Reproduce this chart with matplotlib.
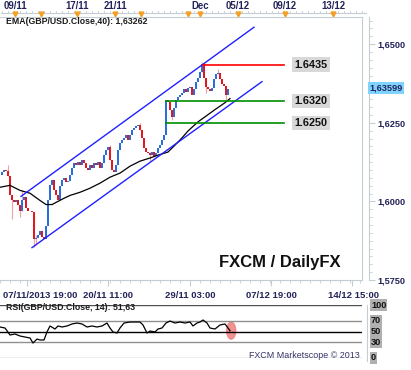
import matplotlib
matplotlib.use('Agg')
from matplotlib import pyplot as plt
from matplotlib import transforms
from matplotlib.patches import Ellipse
import numpy as np

plt.rcParams['font.family'] = ['Liberation Sans', 'DejaVu Sans']

# GBP/USD candles (one per bar index), open = previous close
first_open = 1.6085
closes = [1.6093, 1.6099, 1.6096, 1.6080, 1.6019, 1.6003, 1.5997, 1.6003, 1.5990, 1.5971,
          1.6003, 1.6013, 1.5978, 1.5968, 1.5971, 1.5965, 1.5881, 1.5885, 1.5894, 1.5907,
          1.5888, 1.5881, 1.5923, 1.6003, 1.6051, 1.6067, 1.6035, 1.6019, 1.6003, 1.6048,
          1.6067, 1.6074, 1.6061, 1.6064, 1.6083, 1.6106, 1.6122, 1.6115, 1.6125, 1.6115,
          1.6131, 1.6122, 1.6106, 1.6099, 1.6115, 1.6106, 1.6122, 1.6115, 1.6125, 1.6106,
          1.6122, 1.6147, 1.6163, 1.6173, 1.6131, 1.6099, 1.6093, 1.6115, 1.6163, 1.6186,
          1.6196, 1.6202, 1.6212, 1.6196, 1.6212, 1.6228, 1.6234, 1.6240, 1.6244, 1.6228,
          1.6202, 1.6170, 1.6157, 1.6153, 1.6147, 1.6157, 1.6144, 1.6154, 1.6170, 1.6179,
          1.6196, 1.6212, 1.6324, 1.6317, 1.6292, 1.6269, 1.6298, 1.6324, 1.6333, 1.6340,
          1.6346, 1.6356, 1.6349, 1.6362, 1.6365, 1.6340, 1.6356, 1.6381, 1.6394, 1.6413,
          1.6436, 1.6394, 1.6365, 1.6356, 1.6352, 1.6362, 1.6388, 1.6404, 1.6407, 1.6388,
          1.6372, 1.6368, 1.6340, 1.6359]

# visible wicks
wick_idx = [3, 5, 9, 10, 16, 17, 54, 69, 74, 85, 100, 102, 108, 112]
wick_hi = [1.6115, 1.6019, 1.5990, 1.6035, 1.5965, 1.5894, 1.6180, 1.6250, 1.6157, 1.6292, 1.6442, 1.6394, 1.6420, 1.6368]
wick_lo = [1.6080, 1.5944, 1.5950, 1.5971, 1.5856, 1.5860, 1.6131, 1.6228, 1.6130, 1.6260, 1.6413, 1.6345, 1.6404, 1.6322]

# EMA(40)
ema_idx = [-1, 4, 9, 14, 19, 22, 25, 28, 31, 34, 39, 44, 49, 54, 59, 64, 69, 74, 78, 83,
           86.5, 90, 93, 98, 101.5, 106.5, 111.5, 114]
ema_val = [1.6045, 1.6051, 1.6035, 1.6026, 1.6003, 1.5990, 1.5990, 1.6000, 1.6010, 1.6019,
           1.6029, 1.6042, 1.6058, 1.6077, 1.6090, 1.6112, 1.6128, 1.6138, 1.6147, 1.6157,
           1.6179, 1.6202, 1.6224, 1.6253, 1.6269, 1.6292, 1.6314, 1.6327]

# RSI(14)
rsi_idx = [-1, 1.5, 4, 6.5, 9, 11.5, 14, 15.5, 17.5, 19, 21, 22.5, 24, 26.5, 28, 30, 32.5, 35,
           37.5, 40, 42.5, 45, 47.5, 50, 52.5, 54, 55.5, 57.5, 59, 61, 64, 66.5, 69, 70.5,
           72.5, 74, 76.5, 78, 80, 82, 84, 86.5, 89, 91.5, 94, 95.5, 97.5, 99, 100.5, 102.5,
           104, 106.5, 109, 111.5, 113, 114]
rsi_val = [58.5, 56.6, 43.4, 45.3, 41.5, 39.6, 37.7, 28.3, 35.8, 34.0, 34.0, 49.1, 60.4, 54.7,
           60.4, 58.5, 60.4, 64.2, 66.0, 64.2, 58.5, 60.4, 58.5, 60.4, 66.0, 56.6, 49.1, 47.2,
           56.6, 66.0, 67.9, 67.9, 67.9, 62.3, 47.2, 50.9, 49.1, 54.7, 56.6, 66.0, 69.8, 66.0,
           67.9, 66.0, 67.9, 60.4, 66.0, 67.9, 71.7, 66.0, 56.6, 54.7, 62.3, 64.2, 56.6, 51.6]
rsi_levels = [0, 30, 50, 70, 100]
rsi_labels = ['0', '30', '50', '70', '100']

# drawn levels and channel
levels = [1.6435, 1.6320, 1.6250]
level_labels = ['1.6435', '1.6320', '1.6250']
level_colors = ['#ff0000', '#009000', '#009000']
level_start = [100.5, 82, 82]
level_end = 141
upper_x = [9.5, 126]
upper_y = [1.6016, 1.6554]
lower_x = [15, 130]
lower_y = [1.5853, 1.6381]

price_ticks = [1.575, 1.600, 1.625, 1.650]
price_labels = ['1,5750', '1,6000', '1,6250', '1,6500']
last_price = 1.63599

top_idx = [6.5, 37.5, 56.5, 99, 118, 141.5, 165.5]
top_labels = ['09/11', '17/11', '21/11', 'Dec', '05/12', '09/12', '13/12']
top_markers = [6.5, 19.5, 37.5, 56.5, 69.5, 93, 99, 118, 141.5, 165.5]
bottom_ticks = [12.5, 53, 94, 134.5, 175]
bottom_label_idx = [19, 53, 94, 134.5, 175.5]
bottom_labels = ['07/11/2013 19:00', '20/11 11:00', '29/11 03:00', '07/12 19:00', '14/12 15:00']

W, H = 411, 370
navy = '#23235a'
frame = '#c4ccd4'

fig = plt.figure(figsize=(W / 100, H / 100), dpi=100)
ax = fig.add_axes([0, 90 / H, 362 / W, 263 / H])
ax_rsi = fig.add_axes([0, 12 / H, 362 / W, 53 / H])

# candles
x = np.arange(len(closes))
c = np.array(closes)
o = np.concatenate([[first_open], c[:-1]])
up = c >= o
ax.vlines(wick_idx, wick_lo, wick_hi, color='#f2a0a0', lw=0.8, zorder=2)
ax.bar(x[up], (c - o)[up], bottom=o[up], width=1.0, color='#2a6edc', zorder=3)
ax.bar(x[~up], (c - o)[~up], bottom=o[~up], width=1.0, color='#e01820', zorder=3)

ax.plot(ema_idx, ema_val, color='black', lw=0.9, zorder=4)
ax.plot(upper_x, upper_y, color='#2020ff', lw=1.0, zorder=4)
ax.plot(lower_x, lower_y, color='#2020ff', lw=1.0, zorder=4)
for lv, lab, col, st in zip(levels, level_labels, level_colors, level_start):
    ax.plot([st, level_end], [lv, lv], color=col, lw=1.2, zorder=4)
    ax.text(154.5, lv, lab, ha='center', va='center', fontsize=7.8, weight='bold',
            color='#111111', zorder=5,
            bbox=dict(facecolor='#d8d8d8', edgecolor='none', boxstyle='square,pad=0.2'))

ax.set_xlim(-1, 180)
ax.set_ylim(1.575, 1.65865)
ax.spines['left'].set_visible(False)
for s in ['top', 'bottom', 'right']:
    ax.spines[s].set_color(frame)
ax.spines['right'].set_position(('outward', 5))
ax.plot([1, 1], [0, 1], transform=ax.transAxes, color=frame, lw=0.8, clip_on=False)
ax.yaxis.tick_right()
ax.set_yticks(price_ticks, price_labels)
ax.set_yticks(np.arange(1.575, 1.6587, 0.0025), minor=True)
ax.tick_params(axis='y', which='major', length=4, color=frame, labelsize=6.6,
               labelcolor=navy, pad=2)
ax.tick_params(axis='y', which='minor', length=2, color=frame)
ax.set_xticks(bottom_ticks, [''] * len(bottom_ticks))
ax.set_xticks(np.arange(-1, 180, 5), minor=True)
ax.tick_params(axis='x', which='major', length=4, color=frame)
ax.tick_params(axis='x', which='minor', length=2, color=frame)
for t in ax.get_yticklabels():
    t.set_weight('bold')

yfig = transforms.blended_transform_factory(ax.transData, fig.transFigure)
ydat = transforms.blended_transform_factory(fig.transFigure, ax.transData)

ax.text(369 / W, last_price, '1,63599', transform=ydat, ha='left', va='center',
        fontsize=6.6, weight='bold', color=navy,
        bbox=dict(facecolor='#7fd4ff', edgecolor='none', boxstyle='square,pad=0.15'))

# top date ruler
ax.plot([-0.5, 182], [1 - 12.5 / H] * 2, transform=yfig, color=frame, lw=0.8, clip_on=False)
for t in np.arange(0, 182, 3):
    ax.plot([t, t], [1 - 11 / H, 1 - 13 / H], transform=yfig, color=frame, lw=0.6, clip_on=False)
ax.plot(top_markers, [1 - 13.5 / H] * len(top_markers), 'v', transform=yfig,
        color='#f5a020', ms=3.5, clip_on=False)
for xi, lab in zip(top_idx, top_labels):
    ax.text(xi, 1 - 6 / H, lab, transform=yfig, ha='center', va='center',
            fontsize=6.9, weight='bold', color=navy)
for xi, lab in zip(bottom_label_idx, bottom_labels):
    ax.text(xi, 1 - 295 / H, lab, transform=yfig, ha='center', va='center',
            fontsize=6.8, weight='bold', color=navy)

fig.text(6 / W, 1 - 22 / H, 'EMA(GBP/USD.Close,40): 1,63262', ha='left', va='center',
         fontsize=6.3, weight='bold', color='#1a1a1a')
fig.text(280 / W, 1 - 262 / H, 'FXCM / DailyFX', ha='center', va='center',
         fontsize=12, weight='bold', color='#111111')

# RSI panel
ax_rsi.add_patch(Ellipse((114.6, 51.6), 4.5, 32, color='#f08080', alpha=0.85, zorder=1))
rsi_colors = ['#a0a0a0', '#909090', '#000000', '#909090', '#505050']
for lv, col in zip(rsi_levels, rsi_colors):
    ax_rsi.axhline(lv, color=col, lw=1.0, zorder=2)
ax_rsi.plot(rsi_idx, rsi_val, color='black', lw=0.9, zorder=3)
ax_rsi.set_xlim(-1, 180)
ax_rsi.set_ylim(0, 100)
ax_rsi.axis('off')
rtr = transforms.blended_transform_factory(fig.transFigure, ax_rsi.transData)
ax_rsi.plot([367 / W, 367 / W], [-5, 100], transform=rtr, color=frame, lw=0.8, clip_on=False)
for lv, lab in zip(rsi_levels, rsi_labels):
    ax_rsi.text(371 / W, lv, lab, transform=rtr, ha='left', va='center', fontsize=6.6,
                weight='bold', color='#111111',
                bbox=dict(facecolor='#b0b0b0', edgecolor='none', boxstyle='square,pad=0.12'))
fig.text(6 / W, 1 - 307 / H, 'RSI(GBP/USD.Close, 14): 51,63', ha='left', va='center',
         fontsize=6.3, weight='bold', color='#1a1a1a')
fig.text(360 / W, 1 - 356 / H, 'FXCM Marketscope \u00a9 2013', ha='right', va='center',
         fontsize=6.4, color='#333366')

fig.savefig('out.png', dpi=100)
